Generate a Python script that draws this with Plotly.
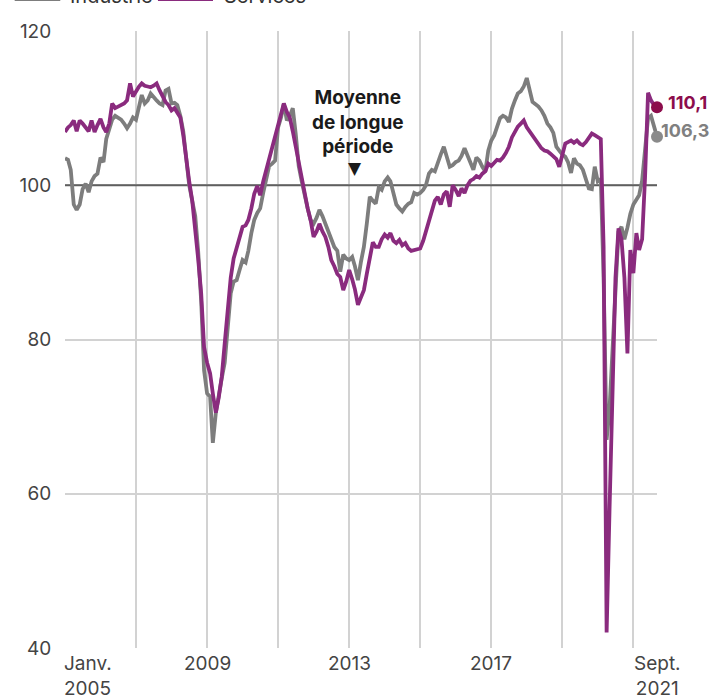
import pandas as pd
import plotly.graph_objects as go

# Monthly business-climate indicators, Jan 2005 - Sept 2021 (long-run mean = 100)
months = pd.date_range("2005-01-01", "2021-09-01", freq="MS")

industrie = [
    103.5, 103.3, 102.0, 97.5, 96.8, 97.5, 99.5, 100.2, 99.1, 100.5, 101.2, 101.5,    # 2005
    103.6, 103.0, 106.0, 107.5, 108.5, 109.0, 108.8, 108.5, 108.0, 107.4, 108.0, 108.8,  # 2006
    108.5, 110.5, 111.7, 110.6, 111.0, 111.9, 111.4, 111.0, 110.6, 110.4, 112.3, 112.5,  # 2007
    110.6, 110.7, 110.4, 109.0, 107.0, 103.5, 100.0, 98.0, 96.0, 91.5, 85.0, 76.0,    # 2008
    73.0, 72.6, 66.6, 70.5, 73.0, 75.0, 77.0, 82.0, 86.0, 87.5, 87.7, 89.0,            # 2009
    90.3, 90.0, 91.5, 93.8, 95.5, 96.4, 97.0, 99.0, 101.1, 102.5, 102.8, 103.2,        # 2010
    107.5, 108.8, 110.6, 108.4, 109.0, 110.0, 106.7, 102.5, 100.5, 98.5, 97.0, 95.5,   # 2011
    95.0, 95.8, 96.8, 96.0, 95.0, 93.8, 93.0, 92.0, 91.5, 88.8, 91.0, 90.5,            # 2012
    90.3, 90.7, 89.5, 87.7, 90.0, 92.0, 95.0, 98.5, 98.0, 97.6, 99.7, 99.4,            # 2013
    100.5, 101.0, 100.5, 98.8, 97.5, 97.0, 96.6, 97.2, 97.6, 97.8, 99.0, 98.8,         # 2014
    99.0, 99.4, 100.0, 101.5, 102.0, 101.8, 103.0, 104.0, 105.0, 103.5, 102.4, 102.6,  # 2015
    103.0, 103.2, 103.8, 104.8, 103.8, 103.0, 102.0, 103.6, 103.2, 102.4, 101.8, 104.5,  # 2016
    105.8, 106.5, 107.5, 108.7, 109.0, 108.8, 108.2, 109.9, 111.0, 111.9, 112.2, 112.8,  # 2017
    113.9, 112.0, 110.8, 110.5, 110.2, 109.7, 109.0, 108.0, 107.5, 106.8, 105.0, 104.5,  # 2018
    104.0, 103.7, 103.0, 101.6, 103.5, 102.8, 102.6, 102.0, 100.8, 99.6, 99.5, 102.4,  # 2019
    100.5, 100.8, 88.0, 67.0, 71.0, 78.0, 86.0, 94.0, 94.6, 93.0, 94.5, 96.3,          # 2020
    97.5, 98.2, 98.7, 100.6, 104.8, 108.7, 109.0, 107.5, 106.3,                        # 2021
]

services = [
    106.9, 107.5, 107.8, 108.4, 107.0, 108.4, 108.0, 107.5, 107.0, 108.4, 106.9, 107.8,  # 2005
    108.6, 107.5, 106.9, 108.0, 110.6, 110.0, 110.2, 110.5, 110.6, 111.0, 113.2, 111.5,  # 2006
    112.2, 112.8, 113.2, 112.9, 112.8, 112.7, 112.9, 113.2, 112.3, 111.5, 110.8, 110.4,  # 2007
    109.7, 110.0, 109.5, 108.8, 106.5, 103.2, 100.5, 98.0, 94.6, 90.5, 86.0, 79.0,     # 2008
    77.0, 75.6, 73.0, 70.5, 72.5, 75.2, 79.5, 83.8, 88.0, 90.5, 92.0, 93.0,            # 2009
    94.6, 94.8, 95.5, 97.0, 98.9, 99.9, 98.7, 100.5, 102.0, 103.2, 105.0, 106.0,       # 2010
    107.5, 109.0, 110.6, 109.5, 108.8, 107.0, 105.0, 102.5, 100.5, 98.5, 97.0, 95.5,   # 2011
    93.3, 94.0, 95.0, 94.0, 93.3, 92.0, 90.3, 89.5, 88.5, 88.1, 86.4, 87.5,            # 2012
    89.0, 87.8, 86.5, 84.5, 85.5, 86.4, 88.5, 90.3, 92.6, 92.0, 92.0, 93.0,            # 2013
    93.6, 93.2, 93.8, 92.8, 92.5, 92.9, 92.2, 92.5, 91.8, 91.5, 91.6, 91.8,            # 2014
    91.8, 92.8, 94.0, 95.0, 96.5, 98.0, 98.5, 97.5, 98.8, 99.2, 97.2, 100.0,           # 2015
    99.4, 98.6, 99.6, 99.0, 100.0, 100.6, 100.8, 101.2, 101.0, 101.5, 101.8, 102.8,    # 2016
    102.5, 103.0, 103.3, 103.2, 103.6, 104.2, 105.0, 106.2, 107.0, 107.6, 108.0, 108.4,  # 2017
    107.5, 106.9, 106.5, 105.8, 105.2, 104.8, 104.5, 104.4, 104.1, 103.8, 103.4, 102.4,  # 2018
    104.0, 105.4, 105.6, 105.8, 105.5, 105.8, 105.4, 105.2, 105.6, 106.2, 106.7, 106.5,  # 2019
    106.2, 106.0, 92.0, 42.0, 58.0, 74.5, 88.0, 94.4, 93.0, 88.0, 78.2, 91.6,          # 2020
    88.6, 93.8, 91.6, 93.0, 101.0, 112.0, 111.0, 110.4, 110.1,                         # 2021
]

grid_dates = [f"{y}-01-01" for y in range(2005, 2022, 2)]
x_label_dates = ["2005-01-01", "2009-01-01", "2013-01-01", "2017-01-01", "2021-09-01"]
x_labels = ["Janv.<br>2005", "2009", "2013", "2017", "Sept.<br>2021"]
y_ticks = [40, 60, 80, 100, 120]
long_run_mean = 100

GREY = "#7d7d7d"
PURPLE = "#8a2b7e"
PURPLE_DOT = "#8c0d4c"
FONT = "Inter"

fig = go.Figure()

# long-run mean reference line
fig.add_trace(go.Scatter(
    x=[months[0], months[-1]], y=[long_run_mean, long_run_mean], mode="lines",
    line=dict(color="#5f5f5f", width=2), hoverinfo="skip",
))
fig.add_trace(go.Scatter(
    x=months, y=industrie, mode="lines", name="Industrie",
    line=dict(color=GREY, width=3.8), cliponaxis=False, hoverinfo="skip",
))
fig.add_trace(go.Scatter(
    x=months, y=services, mode="lines", name="Services",
    line=dict(color=PURPLE, width=3.8), cliponaxis=False, hoverinfo="skip",
))
# latest values
fig.add_trace(go.Scatter(
    x=[months[-1]], y=[industrie[-1]], mode="markers",
    marker=dict(color="#8a8a8a", size=12), cliponaxis=False,
))
fig.add_trace(go.Scatter(
    x=[months[-1]], y=[services[-1]], mode="markers",
    marker=dict(color=PURPLE_DOT, size=12), cliponaxis=False,
))

def fmt(v):
    return f"{v:.1f}".replace(".", ",")

annotations = [
    dict(x=months[-1], y=services[-1], xref="x", yref="y", text=f"<b>{fmt(services[-1])}</b>",
         xanchor="left", yanchor="middle", xshift=9, yshift=5, showarrow=False,
         font=dict(family=FONT, size=18, color=PURPLE_DOT)),
    dict(x=months[-1], y=industrie[-1], xref="x", yref="y", text=f"<b>{fmt(industrie[-1])}</b>",
         xanchor="left", yanchor="middle", xshift=2, yshift=6, showarrow=False,
         font=dict(family=FONT, size=18, color="#808080")),
    dict(x="2013-04-01", y=108.2, xref="x", yref="y",
         text="<b>Moyenne<br>de longue<br>période</b>", align="center",
         xanchor="center", yanchor="middle", showarrow=False,
         font=dict(family=FONT, size=19, color="#1a1a1a")),
    dict(x="2013-03-01", y=long_run_mean, xref="x", yref="y", text="▼",
         xanchor="center", yanchor="bottom", yshift=5, showarrow=False,
         font=dict(family="DejaVu Sans", size=17, color="#1a1a1a")),
    # legend
    dict(x=0.005, y=1.0, xref="paper", yref="paper", text="Industrie",
         xanchor="left", yanchor="bottom", yshift=21, showarrow=False,
         font=dict(family=FONT, size=20, color="#333")),
    dict(x=0.265, y=1.0, xref="paper", yref="paper", text="Services",
         xanchor="left", yanchor="bottom", yshift=21, showarrow=False,
         font=dict(family=FONT, size=20, color="#333")),
]

for d, lab in zip(x_label_dates, x_labels):
    first = d == x_label_dates[0]
    annotations.append(dict(
        x=d, y=0, xref="x", yref="paper", text=lab, align="left" if first else "center",
        xanchor="left" if first else "center", xshift=-3 if first else 0,
        yanchor="top", yshift=-2, showarrow=False,
        font=dict(family=FONT, size=19, color="#444"),
    ))

shapes = [
    dict(type="line", xref="paper", yref="paper", x0=-0.085, x1=-0.008, y0=1.052, y1=1.052,
         line=dict(color=GREY, width=4)),
    dict(type="line", xref="paper", yref="paper", x0=0.157, x1=0.25, y0=1.052, y1=1.052,
         line=dict(color=PURPLE, width=4)),
]

fig.update_layout(
    width=715, height=698,
    margin=dict(l=65, r=58, t=31, b=50),
    paper_bgcolor="white", plot_bgcolor="white",
    showlegend=False,
    font=dict(family=FONT, color="#444"),
    annotations=annotations,
    shapes=shapes,
    xaxis=dict(
        type="date", range=["2005-01-01", "2021-09-01"],
        tickmode="array", tickvals=grid_dates, showticklabels=False,
        showgrid=True, gridcolor="#d2d2d2", gridwidth=1.5,
        zeroline=False, showline=False, ticks="",
    ),
    yaxis=dict(
        range=[40, 120], tickmode="array", tickvals=y_ticks,
        showgrid=True, gridcolor="#d2d2d2", gridwidth=1.5,
        zeroline=False, showline=False,
        ticks="outside", ticklen=9, tickcolor="rgba(0,0,0,0)",
        tickfont=dict(family=FONT, size=19, color="#444"),
    ),
)

fig.write_html("out.html")
